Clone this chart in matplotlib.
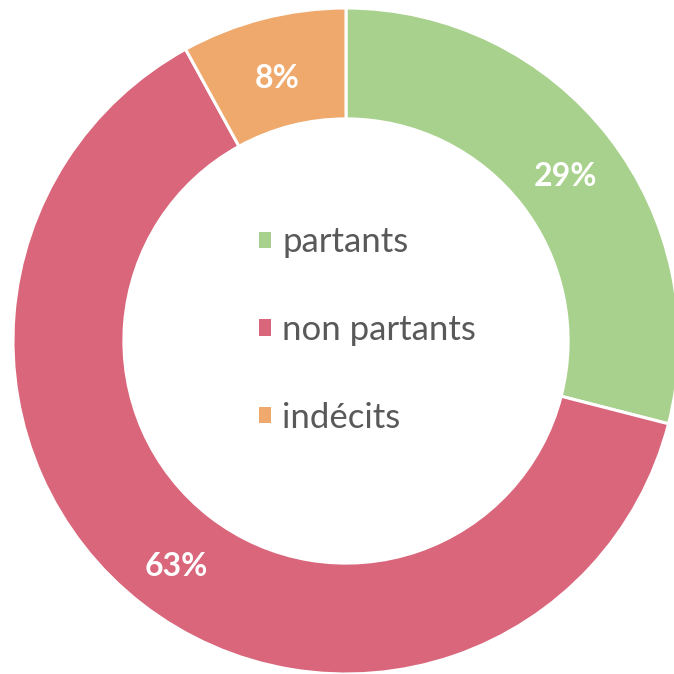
import matplotlib
matplotlib.use("Agg")
import matplotlib.pyplot as plt
from matplotlib.transforms import ScaledTranslation

categories = ["partants", "non partants", "indécits"]
values = [29, 63, 8]
labels = ["29%", "63%", "8%"]
colors = ["#A9D18E", "#D9667A", "#EFA96D"]

W = H = 674
dpi = 100
fig = plt.figure(figsize=(W / dpi, H / dpi), dpi=dpi)
ax = fig.add_axes([0, 0, 1, 1])

width = 0.333
wedges, texts = ax.pie(values, colors=colors, startangle=90, counterclock=False,
                       radius=1.0, labels=labels, labeldistance=1 - width / 2,
                       wedgeprops=dict(width=width, edgecolor="white", linewidth=2.2),
                       textprops=dict(color="white", fontsize=23, fontweight="bold",
                                      family="Lato", ha="center", va="center"))

R_px = 333.0
cx, cy = 346.0, 341.0
ax.set_xlim(-cx / R_px, (W - cx) / R_px)
ax.set_ylim(-(H - cy) / R_px, cy / R_px)
ax.set_aspect("equal")
ax.axis("off")

shift = ScaledTranslation(0, -6 / dpi, fig.dpi_scale_trans)
for t in texts:
    t.set_transform(t.get_transform() + shift)

leg = ax.legend(wedges, categories, loc="center left",
                bbox_to_anchor=(259 / W, 1 - 330 / H),
                bbox_transform=fig.transFigure, frameon=False, borderpad=0,
                borderaxespad=0,
                prop=dict(family="Lato", size=25), labelcolor="#595959",
                handlelength=0.35, handleheight=0.35, handletextpad=0.32,
                labelspacing=1.6)
for h in leg.legend_handles:
    h.set_edgecolor("none")

fig.savefig("out.png", dpi=dpi)
